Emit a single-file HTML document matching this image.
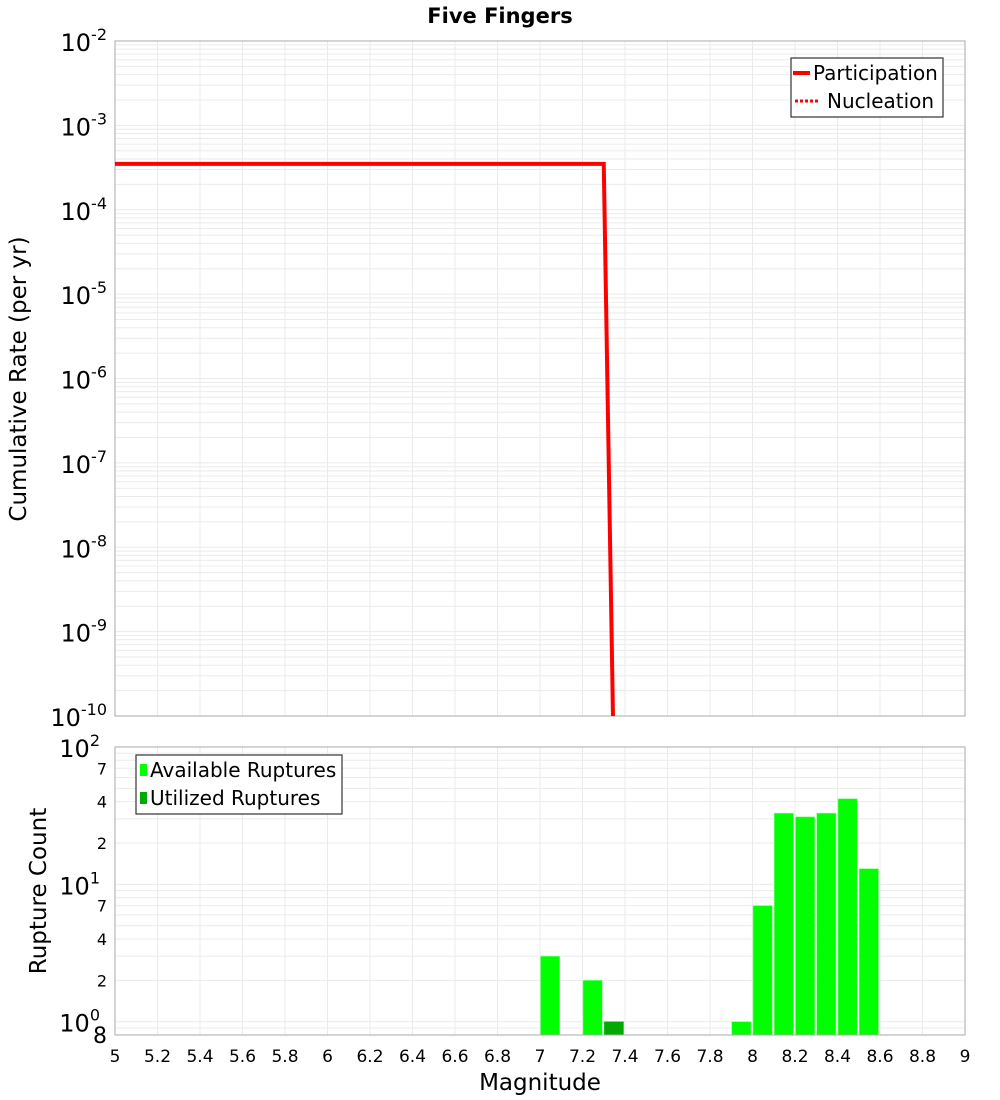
<!DOCTYPE html>
<html><head><meta charset="utf-8"><style>
body{margin:0;background:#fff}
svg{display:block;font-family:"DejaVu Sans","Liberation Sans",sans-serif}
</style></head><body>
<svg id="chart" width="1000" height="1100" xmlns="http://www.w3.org/2000/svg">
<text x="500" y="23" text-anchor="middle" font-size="21" font-weight="bold">Five Fingers</text>
<g id="topG"></g>
<g id="botG"></g>
<text transform="translate(26,379) rotate(-90)" text-anchor="middle" font-size="23">Cumulative Rate (per yr)</text>
<text transform="translate(46,891) rotate(-90)" text-anchor="middle" font-size="23">Rupture Count</text>
<text x="540" y="1090" text-anchor="middle" font-size="23">Magnitude</text>
<g id="legends"></g>
</svg>
<script>
const xTicks=[5,5.2,5.4,5.6,5.8,6,6.2,6.4,6.6,6.8,7,7.2,7.4,7.6,7.8,8,8.2,8.4,8.6,8.8,9];
const rateMags=[5,7.3,7.35];
const participation=[3.5e-4,3.5e-4,1e-11];
const nucleation=[3.5e-4,3.5e-4,1e-11];
const binStarts=[7.0,7.2,7.3,7.9,8.0,8.1,8.2,8.3,8.4,8.5];
const available=[3,2,1,1,7,33,31,33,42,13];
const utilizedBins=[7.3];
const utilized=[1];
const countTickVals=[100,70,40,20,10,7,4,2,1,0.8];
const countTickLabels=["2","7","4","2","1","7","4","2","0","8"];
const countTickBig=[true,false,false,false,true,false,false,false,true,false];
const NS="http://www.w3.org/2000/svg";
const L=115,R=965;
const X=m=>L+(m-5)/4*(R-L);
const T0=41,T1=716;
const YT=v=>T0+(-2-Math.log10(v))/8*(T1-T0);
const B0=747,B1=1035,BMIN=0.8,BMAX=100;
const YB=v=>B1-(Math.log10(v)-Math.log10(BMIN))/(Math.log10(BMAX)-Math.log10(BMIN))*(B1-B0);
function mk(tag,attrs,parent){const e=document.createElementNS(NS,tag);for(const k in attrs)e.setAttribute(k,attrs[k]);parent.appendChild(e);return e;}
const topG=document.getElementById('topG'),botG=document.getElementById('botG'),svgEl=document.getElementById('chart');
for(let d=-10;d<-2;d++){for(let k=1;k<10;k++){const y=YT(k*Math.pow(10,d));
const g=mk('line',{x1:L,x2:R,y1:y,y2:y,stroke:'#ebebeb','stroke-width':1},topG);

}}
xTicks.forEach(t=>{const g=mk('line',{x1:X(t),x2:X(t),y1:T0,y2:T1,stroke:'#ebebeb'},topG);


const g2=mk('line',{x1:X(t),x2:X(t),y1:B0,y2:B1,stroke:'#ebebeb'},botG);


const tx=mk('text',{x:X(t),y:1062,'text-anchor':'middle','font-size':17},svgEl);tx.textContent=String(t);

});
for(let d=-10;d<=-2;d++){const y=YT(Math.pow(10,d));
const t=mk('text',{x:107,y:y+10,'text-anchor':'end','font-size':24},svgEl);
t.innerHTML='10<tspan dy="-11" font-size="16">'+d+'</tspan>';

}
const frame=mk('rect',{x:L,y:T0,width:R-L,height:T1-T0,fill:'none',stroke:'#aaa'},topG);


const defs=mk('defs',{},svgEl);
const cp=mk('clipPath',{id:'cpt'},defs);mk('rect',{x:L,y:T0,width:R-L,height:T1-T0},cp);
const ptsP=rateMags.map((m,i)=>X(m)+','+YT(participation[i])).join(' ');
const ptsN=rateMags.map((m,i)=>X(m)+','+YT(nucleation[i])).join(' ');
const pl=mk('polyline',{points:ptsP,fill:'none',stroke:'#f00','stroke-width':4,'clip-path':'url(#cpt)'},topG);


const nl=mk('polyline',{points:ptsN,fill:'none',stroke:'#f00','stroke-width':3,'stroke-dasharray':'3,2','clip-path':'url(#cpt)'},topG);


[0.8,0.9,1,2,3,4,5,6,7,8,9,10,20,30,40,50,60,70,80,90].forEach(v=>{const y=YB(v);
const g=mk('line',{x1:L,x2:R,y1:y,y2:y,stroke:'#ebebeb'},botG);

});
countTickVals.forEach((v,i)=>{const y=YB(v);let e;
if(countTickBig[i]){e=mk('text',{x:100,y:y+10,'text-anchor':'end','font-size':24},svgEl);e.innerHTML='10<tspan dy="-11" font-size="16">'+countTickLabels[i]+'</tspan>';}
else{e=mk('text',{x:107,y:y+(v===0.8?8:6),'text-anchor':'end','font-size':v===0.8?22:16},svgEl);e.textContent=countTickLabels[i];}

});
const bw=X(5.1)-X(5);
binStarts.forEach((b,i)=>{const y=YB(available[i]);
const r=mk('rect',{x:X(b)+0.5,y:y,width:bw-2,height:B1-y,fill:'#00ff00',stroke:'#88ff88','stroke-width':0.6},botG);

});
utilizedBins.forEach((b,i)=>{const y=YB(utilized[i]);
const r=mk('rect',{x:X(b)+0.5,y:y,width:bw-2,height:B1-y,fill:'#00aa00',stroke:'#33cc33','stroke-width':0.6},botG);

});
const f2=mk('rect',{x:L,y:B0,width:R-L,height:B1-B0,fill:'none',stroke:'#aaa'},botG);


const lg=document.getElementById('legends');
lg.innerHTML='<g><rect x="791" y="58" width="152" height="59" fill="#fff" stroke="#333" stroke-width="1.2"/><line x1="793" y1="73" x2="810" y2="73" stroke="#f00" stroke-width="4"/><text x="813" y="80" font-size="20">Participation</text><line x1="795" y1="101" x2="820" y2="101" stroke="#f00" stroke-width="3" stroke-dasharray="3,2"/><text x="827" y="108" font-size="20">Nucleation</text></g>'+
'<g><rect x="136" y="755" width="206" height="59" fill="#fff" stroke="#333" stroke-width="1.2"/><rect x="140" y="764" width="7" height="12" fill="#00ff00"/><text x="150" y="777" font-size="20">Available Ruptures</text><rect x="140" y="792" width="7" height="12" fill="#00aa00"/><text x="150" y="805" font-size="20">Utilized Ruptures</text></g>';
</script>
</body></html>
